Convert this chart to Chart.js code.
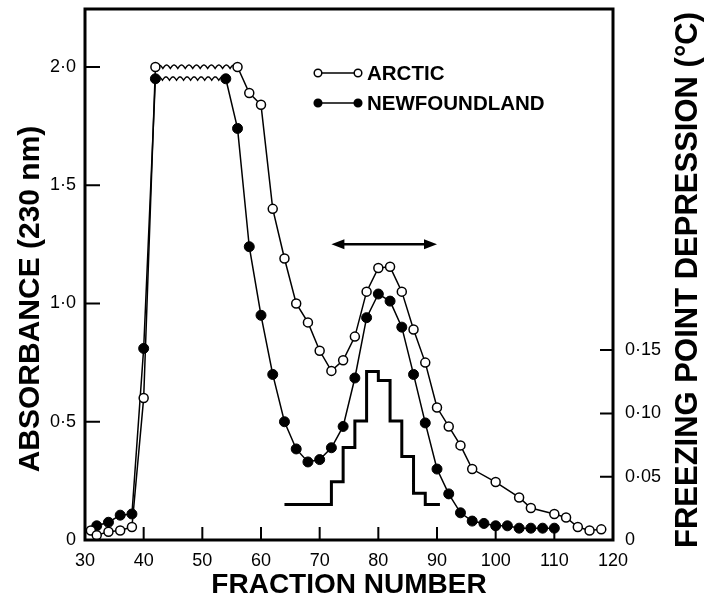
<!DOCTYPE html>
<html lang="en">
<head>
<meta charset="UTF-8">
<title>Absorbance and freezing point depression</title>
<script src="https://cdn.jsdelivr.net/npm/chart.js"></script>
<style>
  body { margin: 0; background: #fff; }
  #wrap { width: 711px; height: 599px; }
</style>
</head>
<body>
<div id="wrap"><canvas id="chart" width="711" height="599"></canvas></div>
<script>
// absorbance (230 nm) per fraction
const arcticFraction = [31, 32, 34, 36, 38, 40, 42, 56, 58, 60, 62, 64, 66, 68, 70, 72, 74, 76, 78, 80,
                        82, 84, 86, 88, 90, 92, 94, 96, 100, 104, 106, 110, 112, 114, 116, 118];
const arcticAbs = [0.04, 0.02, 0.035, 0.04, 0.055, 0.60, 2.0, 2.0, 1.89, 1.84, 1.40, 1.19, 1.00, 0.92, 0.80, 0.715, 0.76, 0.86, 1.05, 1.15,
                   1.155, 1.05, 0.89, 0.75, 0.56, 0.48, 0.40, 0.30, 0.245, 0.18, 0.135, 0.11, 0.095, 0.055, 0.04, 0.045];
const arcticPlateau = [42, 56];   // off scale, drawn as a wavy line

const newfFraction = [32, 34, 36, 38, 40, 42, 54, 56, 58, 60, 62, 64, 66, 68, 70, 72, 74, 76, 78, 80,
                      82, 84, 86, 88, 90, 92, 94, 96, 98, 100, 102, 104, 106, 108, 110];
const newfAbs = [0.06, 0.075, 0.105, 0.11, 0.81, 1.95, 1.95, 1.74, 1.24, 0.95, 0.70, 0.50, 0.385, 0.33, 0.34, 0.39, 0.48, 0.685, 0.94, 1.04,
                 1.01, 0.90, 0.70, 0.495, 0.30, 0.195, 0.115, 0.08, 0.07, 0.06, 0.06, 0.05, 0.05, 0.05, 0.05];
const newfPlateau = [42, 54];

// freezing point depression (°C), each value holds until the next fraction
const fpdFraction = [64, 72, 74, 76, 78, 80, 82, 84, 86, 88, 90.5];
const fpdValue = [0.028, 0.046, 0.073, 0.094, 0.133, 0.126, 0.094, 0.066, 0.037, 0.028, 0.028];

// pooled fractions (double arrow)
const poolRange = [72, 90];
const poolLevel = 1.25;

const FONT = "'Liberation Sans', Arial, sans-serif";

function pts(xs, ys) {
  return xs.map((x, i) => ({x: x, y: ys[i]}));
}
function dotted(v, d) {
  return v === 0 ? '0' : v.toFixed(d).replace('.', '\u00b7');
}
function plateauSegment(range) {
  return ctx => (ctx.p0.parsed.x === range[0] && ctx.p1.parsed.x === range[1]) ? 'rgba(0,0,0,0)' : undefined;
}
function noPad(s) {
  s.paddingTop = 0;
  s.paddingBottom = 0;
}

// wavy line across the off-scale plateau
const wavy = {
  id: 'wavy',
  beforeDatasetsDraw(chart) {
    const ctx = chart.ctx;
    chart.data.datasets.forEach((ds, i) => {
      if (!ds.plateau) return;
      const meta = chart.getDatasetMeta(i);
      const a = meta.data[ds.data.findIndex(p => p.x === ds.plateau[0])];
      const b = meta.data[ds.data.findIndex(p => p.x === ds.plateau[1])];
      const n = Math.round((b.x - a.x) / 7.4);
      const step = (b.x - a.x) / n;
      ctx.save();
      ctx.beginPath();
      ctx.lineWidth = 1.4;
      ctx.strokeStyle = '#000';
      for (let k = 0; k <= n * 12; k++) {
        const x = a.x + k * step / 12;
        const y = a.y + 1.5 - 3.4 * Math.abs(Math.sin(Math.PI * k / 12));
        if (k) ctx.lineTo(x, y); else ctx.moveTo(x, y);
      }
      ctx.stroke();
      ctx.restore();
    });
  }
};

// inward tick marks, frame, arrow, legend, rotated axis titles
const extras = {
  id: 'extras',
  afterDraw(chart) {
    const {ctx, chartArea: a, scales} = chart;
    ctx.save();
    ctx.strokeStyle = '#000';
    ctx.fillStyle = '#000';

    ctx.lineWidth = 2;
    ctx.beginPath();
    scales.x.ticks.forEach(t => {
      if (t.value <= scales.x.min || t.value >= scales.x.max) return;
      const px = scales.x.getPixelForValue(t.value);
      ctx.moveTo(px, a.bottom);
      ctx.lineTo(px, a.bottom - 13);
    });
    scales.y.ticks.forEach(t => {
      if (t.value <= 0) return;
      const py = scales.y.getPixelForValue(t.value);
      ctx.moveTo(a.left, py);
      ctx.lineTo(a.left + 15, py);
    });
    scales.y2.ticks.forEach(t => {
      if (t.value <= 0) return;
      const py = scales.y2.getPixelForValue(t.value);
      ctx.moveTo(a.right, py);
      ctx.lineTo(a.right - 13, py);
    });
    ctx.stroke();

    ctx.lineWidth = 3;
    ctx.strokeRect(a.left, a.top, a.right - a.left, a.bottom - a.top);

    // double arrow
    const x1 = scales.x.getPixelForValue(poolRange[0]);
    const x2 = scales.x.getPixelForValue(poolRange[1]);
    const ya = scales.y.getPixelForValue(poolLevel);
    ctx.lineWidth = 2.5;
    ctx.beginPath();
    ctx.moveTo(x1 + 8, ya);
    ctx.lineTo(x2 - 8, ya);
    ctx.stroke();
    ctx.beginPath();
    ctx.moveTo(x1, ya); ctx.lineTo(x1 + 13, ya - 5); ctx.lineTo(x1 + 13, ya + 5); ctx.closePath();
    ctx.moveTo(x2, ya); ctx.lineTo(x2 - 13, ya - 5); ctx.lineTo(x2 - 13, ya + 5); ctx.closePath();
    ctx.fill();

    // legend
    const lx = a.left + 233;
    [0, 1].forEach((di, r) => {
      const ds = chart.data.datasets[di];
      const ly = a.top + 64 + r * 30;
      ctx.lineWidth = 1.5;
      ctx.beginPath();
      ctx.moveTo(lx, ly);
      ctx.lineTo(lx + 40, ly);
      ctx.stroke();
      [lx, lx + 40].forEach(cx => {
        ctx.beginPath();
        ctx.arc(cx, ly, 3.8, 0, Math.PI * 2);
        ctx.fillStyle = ds.pointBackgroundColor;
        ctx.fill();
        ctx.stroke();
      });
      ctx.fillStyle = '#000';
      ctx.font = 'bold 20.5px ' + FONT;
      ctx.textAlign = 'left';
      ctx.textBaseline = 'middle';
      ctx.fillText(ds.label, lx + 49, ly + 1);
    });

    // axis titles reading upwards
    ctx.textAlign = 'center';
    ctx.textBaseline = 'middle';
    [[31, 299, 30, 'ABSORBANCE (230 nm)'], [688, 280, 31, 'FREEZING POINT DEPRESSION (\u00b0C)']].forEach(t => {
      ctx.save();
      ctx.translate(t[0], t[1]);
      ctx.rotate(-Math.PI / 2);
      ctx.font = 'bold ' + t[2] + 'px ' + FONT;
      ctx.fillText(t[3], 0, 0);
      ctx.restore();
    });
    ctx.restore();
  }
};

const tickFont = {family: FONT, size: 18};

new Chart(document.getElementById('chart'), {
  type: 'line',
  data: {
    datasets: [
      {
        label: 'ARCTIC',
        data: pts(arcticFraction, arcticAbs),
        plateau: arcticPlateau,
        yAxisID: 'y',
        borderColor: '#000',
        borderWidth: 1.5,
        pointRadius: 4.5,
        pointBackgroundColor: '#fff',
        pointBorderColor: '#000',
        pointBorderWidth: 1.5,
        segment: {borderColor: plateauSegment(arcticPlateau)}
      },
      {
        label: 'NEWFOUNDLAND',
        data: pts(newfFraction, newfAbs),
        plateau: newfPlateau,
        yAxisID: 'y',
        borderColor: '#000',
        borderWidth: 1.5,
        pointRadius: 5,
        pointBackgroundColor: '#000',
        pointBorderColor: '#000',
        pointBorderWidth: 1,
        segment: {borderColor: plateauSegment(newfPlateau)}
      },
      {
        label: 'FPD',
        data: pts(fpdFraction, fpdValue),
        yAxisID: 'y2',
        stepped: true,
        borderColor: '#000',
        borderWidth: 3,
        pointRadius: 0
      }
    ]
  },
  options: {
    responsive: false,
    animation: false,
    layout: {padding: {top: 9, left: 0, right: 0, bottom: 0}},
    plugins: {legend: {display: false}, tooltip: {enabled: false}},
    scales: {
      x: {
        type: 'linear',
        min: 30,
        max: 120,
        grid: {display: false, drawTicks: false},
        border: {display: false},
        ticks: {stepSize: 10, font: tickFont, color: '#000', padding: 10, maxRotation: 0, autoSkip: false},
        title: {display: true, text: 'FRACTION NUMBER', color: '#000',
                font: {family: FONT, size: 28, weight: 'bold', lineHeight: 1.0}, padding: {top: 0, bottom: 0}},
        afterFit: s => { s.height = 59; s.paddingLeft = 0; s.paddingRight = 0; }
      },
      y: {
        min: 0,
        max: 2.245,
        grid: {display: false, drawTicks: false},
        border: {display: false},
        ticks: {stepSize: 0.5, includeBounds: false, font: tickFont, color: '#000', padding: 9,
                callback: v => dotted(v, 1)},
        afterFit: s => { s.width = 85; noPad(s); }
      },
      y2: {
        position: 'right',
        min: 0,
        max: 0.4194,
        grid: {display: false, drawTicks: false},
        border: {display: false},
        ticks: {stepSize: 0.05, includeBounds: false, font: tickFont, color: '#000', padding: 12,
                callback: v => dotted(v, 2)},
        afterBuildTicks: s => { s.ticks = s.ticks.filter(t => t.value < 0.16); },
        afterFit: s => { s.width = 98; noPad(s); }
      }
    }
  },
  plugins: [wavy, extras]
});
</script>
</body>
</html>
